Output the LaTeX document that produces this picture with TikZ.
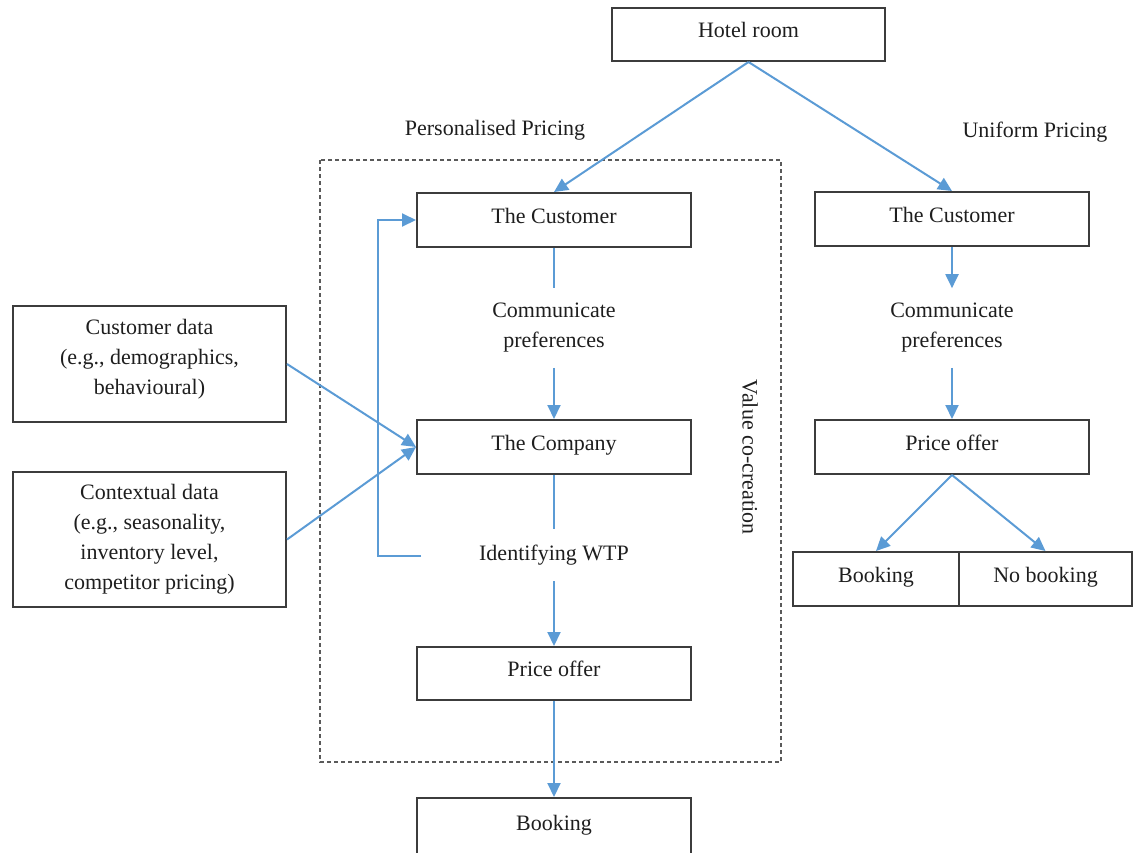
\documentclass[tikz,border=0pt]{standalone}
\usepackage{fontspec}
\setmainfont{Liberation Serif}
\usetikzlibrary{arrows.meta}
\definecolor{flowblue}{HTML}{5B9BD5}
\definecolor{boxline}{HTML}{3C3C3C}
\definecolor{ink}{HTML}{1E1E1E}
\definecolor{dashgray}{HTML}{5A5A5A}
\begin{document}
\begin{tikzpicture}[x=1pt,y=-1pt,
  font=\fontsize{22}{30}\selectfont, text=ink,
  box/.style={draw=boxline, line width=2pt, inner sep=0pt, align=center},
  onel/.style={text height=14pt, text depth=8pt},
  lbl/.style={inner xsep=0pt, inner ysep=15pt, align=center},
  flow/.style={draw=flowblue, line width=2pt, -{Triangle[length=14pt,width=13pt]}},
  link/.style={draw=flowblue, line width=2pt}
]
\useasboundingbox (0,0) rectangle (1133,852);

% value co-creation frame
\draw[dashgray, line width=1.5pt, dash pattern=on 4pt off 3pt] (320,160) rectangle (781,762);
\node[rotate=-90, inner sep=0pt] (vcc) at (750,457) {Value co-creation};

% top
\node[box, onel, minimum width=273, minimum height=53] (hotel) at (748.5,34.5) {Hotel room};
\node[inner sep=0pt] (pp) at (495,130) {Personalised Pricing};
\node[inner sep=0pt] (up) at (1035,132) {Uniform Pricing};

% personalised pricing column
\node[box, onel, minimum width=274, minimum height=54] (pcust) at (554,220) {The Customer};
\node[lbl] (pcomm) at (554,328) {Communicate\\preferences};
\node[box, onel, minimum width=274, minimum height=54] (pcomp) at (554,447) {The Company};
\node[lbl, inner ysep=16pt] (pwtp) at (554,555) {Identifying WTP};
\node[box, onel, minimum width=274, minimum height=53] (pprice) at (554,673.5) {Price offer};
\node[box, onel, minimum width=274, minimum height=58] (pbook) at (554,827) {Booking};

% data sources
\node[box, minimum width=273, minimum height=116, text height=75pt, text depth=14pt] (cdata) at (149.5,364)
  {Customer data\\(e.g., demographics,\\behavioural)};
\node[box, minimum width=273, minimum height=135] (xdata) at (149.5,539.5)
  {Contextual data\\(e.g., seasonality,\\inventory level,\\competitor pricing)};

% uniform pricing column
\node[box, onel, minimum width=274, minimum height=54] (ucust) at (952,219) {The Customer};
\node[lbl] (ucomm) at (952,328) {Communicate\\preferences};
\node[box, onel, minimum width=274, minimum height=54] (uprice) at (952,447) {Price offer};
\node[box, onel, minimum width=166, minimum height=54] (ubook) at (876,579) {Booking};
\node[box, onel, minimum width=173, minimum height=54] (unobook) at (1045.5,579) {No booking};

% connectors
\draw[flow] (hotel.south) -- (pcust.north);
\draw[flow] (hotel.south) -- (ucust.north);

\draw[link] (pcust.south) -- (pcomm.north);
\draw[flow] (pcomm.south) -- (pcomp.north);
\draw[link] (pcomp.south) -- (pwtp.north);
\draw[flow] (pwtp.south) -- (pprice.north);
\draw[flow] (pprice.south) -- (pbook.north);

\coordinate (loopstart) at (421,556);
\coordinate (loopcorner) at (378,556);
\draw[flow] (loopstart) -- (loopcorner) |- (pcust.west);

\draw[flow] (cdata.east) -- (pcomp.west);
\draw[flow] (xdata.east) -- (pcomp.west);

\draw[flow] (ucust.south) -- (ucomm.north);
\draw[flow] (ucomm.south) -- (uprice.north);
\draw[flow] (uprice.south) -- (ubook.north);
\draw[flow] (uprice.south) -- (unobook.north);
\end{tikzpicture}
\end{document}
